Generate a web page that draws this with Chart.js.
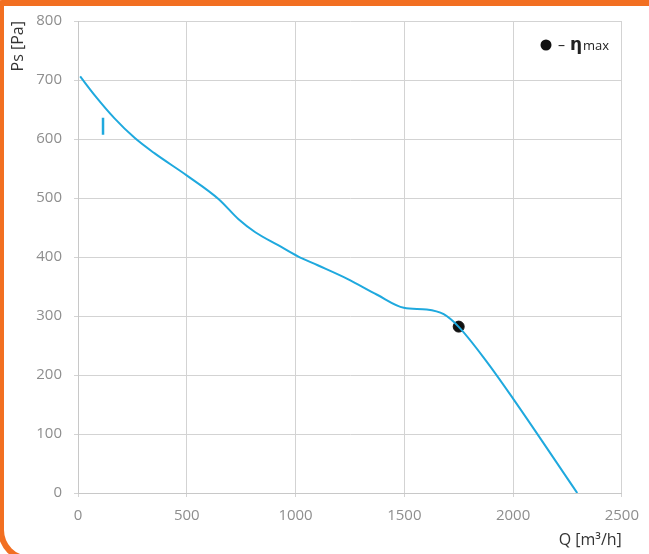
<!DOCTYPE html>
<html>
<head>
<meta charset="utf-8">
<script src="https://cdn.jsdelivr.net/npm/chart.js@4.4.1/dist/chart.umd.min.js"></script>
<style>
    html, body { margin: 0; padding: 0; background: #fff; overflow: hidden; }
    #frame {
        position: absolute; left: -2px; top: 0; width: 700px; height: 562px;
        box-sizing: border-box;
        border: 6px solid #F26F21; border-radius: 4px 0 0 32px; background: #fff;
    }
    #wrap { position: absolute; left: 0; top: 0; width: 649px; height: 554px; }
</style>
</head>
<body>
<div id="frame"></div>
<div id="wrap"><canvas id="fanChart" width="649" height="554"></canvas></div>
<script>
// curve: Q [m3/h] vs Ps [Pa]
const flowQ = [10, 77, 168, 260, 351, 501, 647, 738, 815, 920, 1011, 1102, 1238, 1375, 1498, 1603, 1681, 1749, 1876, 2000, 2295];
const pressurePs = [706, 674, 635, 602, 576, 538, 498, 464, 442, 420, 401, 386, 363, 336, 314, 311, 303, 282, 224, 160, 0];
// efficiency max point
const etaQ = [1750];
const etaPs = [282];
// small marker near the start of the curve
const markQ = [115, 115];
const markPs = [636, 607];

const xTicks = [0, 500, 1000, 1500, 2000, 2500];
const yTicks = [0, 100, 200, 300, 400, 500, 600, 700, 800];

Chart.defaults.font.family = '"Open Sans", sans-serif';
Chart.defaults.font.size = 15;
Chart.defaults.color = '#8e8e8e';

const toPoints = (xs, ys) => xs.map((x, i) => ({ x: x, y: ys[i] }));

const etaLegend = {
    id: 'etaLegend',
    afterDraw(chart) {
        const ctx = chart.ctx;
        ctx.save();
        ctx.fillStyle = '#111';
        ctx.beginPath();
        ctx.arc(546, 45, 5.5, 0, Math.PI * 2);
        ctx.fill();
        ctx.fillStyle = '#222';
        ctx.textBaseline = 'alphabetic';
        ctx.font = '14px "Open Sans"';
        ctx.fillText('–', 558, 50);
        ctx.font = 'bold 17px "DejaVu Sans"';
        ctx.fillText('η', 570, 50);
        ctx.font = '13px "Open Sans"';
        ctx.fillText('max', 583, 50);
        ctx.restore();
    }
};

const fanChart = new Chart(document.getElementById('fanChart').getContext('2d'), {
    type: 'scatter',
    data: {
        datasets: [
            {
                type: 'line',
                label: 'Ps',
                data: toPoints(flowQ, pressurePs),
                borderColor: '#1FA9DE',
                borderWidth: 2,
                pointRadius: 0,
                cubicInterpolationMode: 'monotone',
                fill: false
            },
            {
                type: 'line',
                label: 'mark',
                data: toPoints(markQ, markPs),
                borderColor: '#1FA9DE',
                borderWidth: 2.5,
                pointRadius: 0
            },
            {
                label: 'eta max',
                data: toPoints(etaQ, etaPs),
                backgroundColor: '#111',
                borderColor: '#111',
                pointRadius: 5.5
            }
        ]
    },
    options: {
        responsive: false,
        animation: false,
        layout: {
            padding: { left: 0, top: 17, right: 22, bottom: 0 }
        },
        plugins: {
            legend: { display: false },
            tooltip: { enabled: false }
        },
        scales: {
            x: {
                type: 'linear',
                min: 0,
                max: 2500,
                afterBuildTicks: scale => { scale.ticks = xTicks.map(v => ({ value: v })); },
                afterFit: scale => { scale.height = 61; },
                ticks: { padding: 10, callback: v => String(v) },
                grid: { color: '#d3d3d3', tickLength: 4 },
                border: { color: '#c8c8c8' },
                title: {
                    display: true,
                    text: 'Q [m³/h]',
                    align: 'end',
                    color: '#333',
                    font: { size: 16 },
                    padding: { top: 0 }
                }
            },
            y: {
                min: 0,
                max: 800,
                afterBuildTicks: scale => { scale.ticks = yTicks.map(v => ({ value: v })); },
                afterFit: scale => { scale.width = 78; },
                ticks: { padding: 12, callback: v => String(v) },
                grid: { color: '#d3d3d3', tickLength: 4 },
                border: { color: '#c8c8c8' },
                title: {
                    display: true,
                    text: 'Ps [Pa]',
                    align: 'end',
                    color: '#333',
                    font: { size: 16 },
                    padding: { top: 9, bottom: 0 }
                }
            }
        }
    },
    plugins: [etaLegend]
});
</script>
</body>
</html>
